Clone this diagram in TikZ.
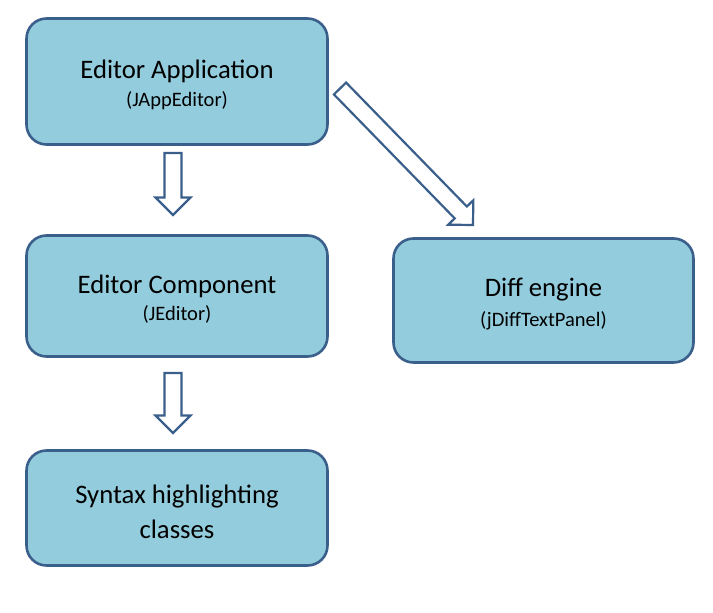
\documentclass[tikz,border=0pt]{standalone}
\usepackage{fontspec}
\setmainfont{Carlito}
\usetikzlibrary{calc}
\definecolor{boxfill}{HTML}{93CDDD}
\definecolor{boxline}{HTML}{3A5F8B}
\tikzset{
  box/.style={draw=boxline, fill=boxfill, line width=2.6pt, rounded corners=20pt,
    align=center, inner sep=0pt},
  maintext/.style={font=\fontsize{26.7}{30}\selectfont, inner sep=0pt},
  subtext/.style={font=\fontsize{20.5}{24}\selectfont, inner sep=0pt},
  arr/.style={draw=boxline, fill=white, line width=2.2pt, line join=miter}
}
\newcommand\harrow[2]{%
  \coordinate (hb) at ($(#2)!17.5pt!(#1)$);
  \draw[arr] ($(#1)!8.5pt!90:(#2)$) -- ($(hb)!8.5pt!90:(#2)$) -- ($(hb)!17.5pt!90:(#2)$)
    -- (#2) -- ($(hb)!17.5pt!-90:(#2)$) -- ($(hb)!8.5pt!-90:(#2)$) -- ($(#1)!8.5pt!-90:(#2)$) -- cycle;}
\begin{document}
\begin{tikzpicture}[x=1pt,y=-1pt]
\useasboundingbox (0,0) rectangle (713,613);
\node[box, minimum width=301pt, minimum height=126pt] (app) at (177,81.5) {};
\node[maintext] (appt) at (177,71) {Editor Application};
\node[subtext] (apps) at (177,101) {(JAppEditor)};
\node[box, minimum width=301pt, minimum height=121pt] (comp) at (177,296) {};
\node[maintext] (compt) at (177,286) {Editor Component};
\node[subtext] (comps) at (177,314) {(JEditor)};
\node[box, minimum width=301pt, minimum height=115pt] (syn) at (177,508) {};
\node[maintext] (synt) at (177,497) {Syntax highlighting};
\node[maintext] (syns) at (177,529) {classes};
\node[box, minimum width=300pt, minimum height=124pt] (diff) at (543.5,300.5) {};
\node[maintext] (difft) at (543.5,290) {Diff engine};
\node[subtext] (diffs) at (543.5,321) {(jDiffTextPanel)};
\coordinate (a1s) at (173,153);
\coordinate (a1e) at (173,215);
\coordinate (a2s) at (173,373);
\coordinate (a2e) at (173,433);
\coordinate (a3s) at (340,88.5);
\coordinate (a3e) at (473,225);
\harrow{a1s}{a1e}
\harrow{a2s}{a2e}
\harrow{a3s}{a3e}
\end{tikzpicture}
\end{document}
